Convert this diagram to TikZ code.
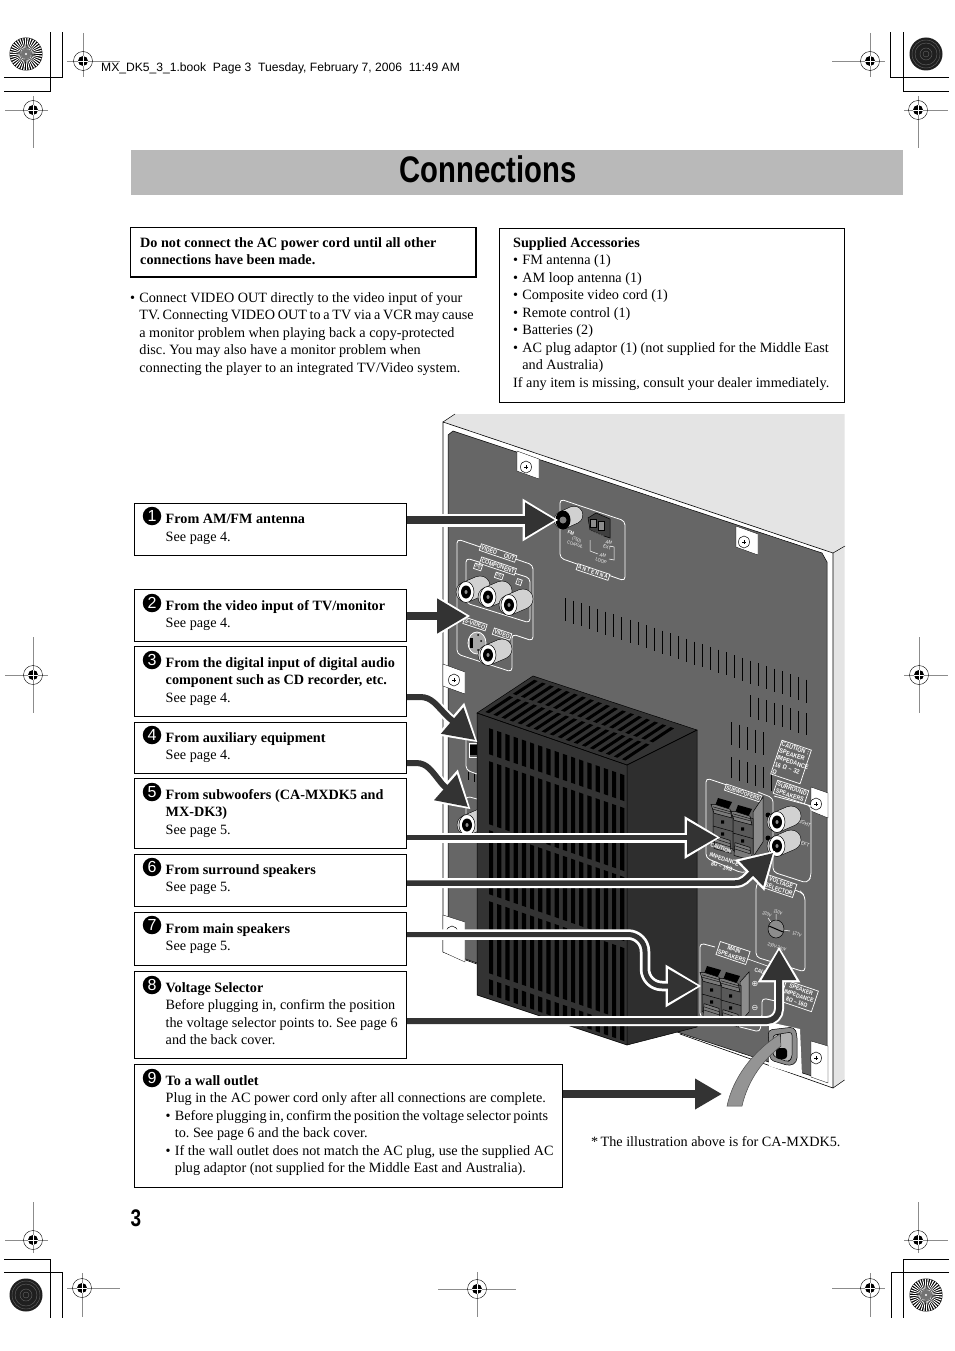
\documentclass[tikz,border=0pt]{standalone}
\usepackage{fontspec}
\setmainfont{Liberation Serif}
\newfontfamily\ttlfont[FakeStretch=0.79]{Liberation Sans}
\newfontfamily\labfont[FakeStretch=0.85]{Liberation Sans}
\newfontfamily\hdrfont{Liberation Sans}
\newfontfamily\symfont{DejaVu Sans}
\usetikzlibrary{arrows.meta}
\definecolor{pan}{HTML}{666666}
\definecolor{lite}{HTML}{E4E4E4}
\definecolor{dk}{HTML}{333333}
\definecolor{bar}{HTML}{B9B9B9}
\newcommand{\bodyf}{\fontsize{14.2}{17.55}\selectfont\frenchspacing}
\newcommand{\blt}{\makebox[9.2pt][l]{•}}
\newcommand{\ind}{\hspace*{9.2pt}}
\newcommand{\numf}{\hdrfont\fontsize{16}{16}\selectfont}
\newcommand{\lbf}[1]{\labfont\bfseries\fontsize{#1}{#1}\selectfont\baselineskip=1.12\baselineskip}
\tikzset{
 ctext/.style={inner sep=0,anchor=north west,align=left,font=\bodyf,yshift=-1pt},
 cbox/.style={draw=black,line width=.8pt,fill=white},
 numc/.style={circle,fill=black,text=white,inner sep=0,minimum size=18.5pt,font=\numf},
 reg/.style={draw=black!45,line width=.8pt},
 crop/.style={draw=black,line width=.9pt},
 grp/.style={draw=white,line width=.8pt,rounded corners=4pt},
 lab/.style={text=white,font=\labfont\fontsize{5.2}{6}\selectfont,rotate=-18.6,inner sep=.6pt,align=center},
 blab/.style={lab,draw=white,fill=pan,line width=.7pt,inner sep=1.2pt},
 wline/.style={draw=white,line width=#1,line join=round},
 dline/.style={draw=dk,line width=#1,line join=round},
 tabw/.style={fill=white,draw=black,line width=.3pt},
}
% registration mark
\newcommand{\regm}[6]{%
 \draw[reg] (#1-#3,#2)--(#1+#4,#2) (#1,#2-#5)--(#1,#2+#6);
 \draw[black,line width=.4pt] (#1,#2) circle[radius=9.5pt];
 \fill[black] (#1,#2) circle[radius=5pt];
 \draw[white,line width=.7pt] (#1-5,#2)--(#1+5,#2) (#1,#2-5)--(#1,#2+5);}
% discs
\newcommand{\radial}[2]{%
 \fill[black] (#1,#2) circle[radius=16.5pt];
 \foreach \a in {0,10,...,350}{\fill[white] (#1,#2) -- +({\a}:16pt) -- +({\a+4.5}:16pt) -- cycle;}
 \fill[black!55] (#1,#2) circle[radius=5pt];
 \fill[white] (#1,#2) circle[radius=1.2pt];}
\newcommand{\darkd}[2]{%
 \fill[black!88] (#1,#2) circle[radius=16.5pt];
 \foreach \r in {3,6,11,14}{\draw[black!60,line width=.4pt] (#1,#2) circle[radius=\r pt];}}
% RCA jack
\newcommand{\jack}[2]{%
 \draw[black,line width=20.5pt,line cap=round] (#1,#2)--(#1+14,#2-6);
 \draw[black!18,line width=19.5pt,line cap=round] (#1,#2)--(#1+14,#2-6);
 \fill[white,draw=black,line width=.5pt] (#1,#2) ellipse[x radius=8pt,y radius=10.5pt];
 \fill[black] (#1,#2) ellipse[x radius=5pt,y radius=6.5pt];
 \fill[black!45] (#1,#2) ellipse[x radius=1.5pt,y radius=2pt];}
% screw
\newcommand{\screw}[2]{%
 \fill[white,draw=black,line width=.5pt] (#1,#2) ellipse[x radius=5.5pt,y radius=6pt];
 \draw[black,line width=1pt] (#1-2,#2)--(#1+2,#2) (#1,#2-2)--(#1,#2+2);}
% tab
\newcommand{\tabp}[8]{\fill[tabw] (#1,#2)--(#3,#4)--(#5,#6)--(#7,#8)--cycle;}
% speaker terminal
\newcommand{\term}[2]{%
 \begin{scope}[shift={(#1,#2)},yscale=.8]
 \fill[black!65,draw=black,line width=.5pt] (0,10)--(20,17)--(20,64)--(0,57)--cycle;
 \fill[black] (5,0)--(19,5)--(15,15)--(2,10)--cycle;
 \fill[black!52,draw=black,line width=.5pt] (-2,8)--(2,8)--(17,14)--(19,25)--(1,19)--cycle;
 \draw[black,line width=.4pt] (0,11)--(17,17) (0,14)--(18,20);
 \fill[black] (8,28) rectangle (11,32) (8,43) rectangle (11,47);
 \draw[black,line width=.5pt] (0,35)--(20,42);
 \fill[black!52,draw=black,line width=.5pt] (2,47)--(17,53)--(18,69)--(1,63)--cycle;
 \draw[black,line width=.4pt] (2,51)--(17,57) (2,55)--(17,61);
 \end{scope}}
\begin{document}
\begin{tikzpicture}[x=1pt,y=-1pt]
\path[use as bounding box] (0,0) rectangle (954,1351);
\fill[white] (0,0) rectangle (954,1351);
% crop marks
\draw[crop] (4,77)--(62,77)--(62,32) (4,91)--(50,91)--(50,32);
\draw[crop] (949,77)--(890,77)--(890,32) (949,91)--(903,91)--(903,32);
\draw[crop] (4,1259)--(50,1259)--(50,1318) (4,1272)--(62,1272)--(62,1318);
\draw[crop] (949,1259)--(903,1259)--(903,1318) (949,1272)--(891,1272)--(891,1318);
\radial{26}{54}\darkd{926}{54}\darkd{26}{1295}\radial{926}{1295}
\regm{83}{61}{16}{37}{28}{16}
\regm{33}{110}{28}{15}{14}{38}
\regm{870}{61}{38}{15}{28}{16}
\regm{918}{110}{14}{30}{14}{38}
\regm{33}{675}{28}{15}{38}{38}
\regm{919}{675}{15}{29}{38}{38}
\regm{33}{1240}{28}{15}{38}{13}
\regm{918}{1240}{14}{30}{38}{13}
\regm{82}{1288}{15}{38}{15}{29}
\regm{477}{1289}{39}{39}{17}{28}
\regm{870}{1288}{38}{15}{15}{29}
% header
\node (hdr) [anchor=base west,inner sep=0,font=\hdrfont\fontsize{12.1}{12}\selectfont] at (101,72) {MX\_DK5\_3\_1.book\hspace{3.5pt} Page 3\hspace{3.5pt} Tuesday, February 7, 2006\hspace{3.5pt} 11:49 AM};
% title
\fill[bar] (131,150) rectangle (903,195);
\node (title) [inner sep=0,font=\ttlfont\bfseries\fontsize{37}{40}\selectfont] at (488,169.5) {Connections};
% page number
\node (pnum) [inner sep=0,font=\ttlfont\bfseries\fontsize{24}{24}\selectfont] at (136,1218) {3};
% warning box
\draw[cbox,line width=1.2pt] (130.5,227.5) rectangle (476,277);
\node (warn) [ctext] at (140,236) {\bfseries Do not connect the AC power cord until all other\\\bfseries connections have been made.};
\node (conn) [ctext] at (130,291) {\blt Connect VIDEO OUT directly to the video input of your\\\ind {\spaceskip=2.7pt\relax TV. Connecting VIDEO OUT to a TV via a VCR may cause}\\\ind a monitor problem when playing back a copy-protected\\\ind disc. You may also have a monitor problem when\\\ind connecting the player to an integrated TV/Video system.};
\draw[cbox] (499.5,228) rectangle (844.5,402);
\node (acc) [ctext] at (513,236) {\bfseries Supplied Accessories\\\blt FM antenna (1)\\\blt AM loop antenna (1)\\\blt Composite video cord (1)\\\blt Remote control (1)\\\blt Batteries (2)\\\blt AC plug adaptor (1) (not supplied for the Middle East\\\ind and Australia)\\If any item is missing, consult your dealer immediately.};
% ---------- device
\fill[lite] (455,414)--(844.5,414)--(844.5,1080)--(833,1088)--(833,553)--(443,422)--cycle;
\fill[white] (443,422)--(833,553)--(833,1088)--(443,952)--cycle;
\fill[pan] (448,435)--(453,431)--(822,553)--(827,562)--(827,1081)--(680,1033)--(477,963)--(448,953)--cycle;
\draw[black,line width=.5pt] (827,1081)--(680,1033)--(448,953)--(448,435)--(453,431)--(822,553)--(827,562)--cycle;
\draw[black,line width=.6pt] (443,952)--(443,422)--(833,553)--(833,1088)--(680,1034) (443,952)--(477,964);
\draw[black,line width=.5pt] (833,553)--(845,546) (833,1088)--(844.5,1080) (443,422)--(455,414);
% tabs & screws
\tabp{517}{451}{539}{459}{539}{479}{517}{471}\screw{526}{467}
\tabp{736}{526}{758}{534}{758}{555}{736}{547}\screw{744}{542}
\tabp{443}{664}{465}{672}{465}{694}{443}{686}\screw{454}{680}
\tabp{811}{787}{828}{793}{828}{818}{811}{811}\screw{816}{804}
\tabp{443}{915}{465}{922}{465}{962}{443}{952}\screw{452}{932}
\tabp{811}{1041}{828}{1046}{828}{1083}{811}{1077}\screw{816}{1058}
% vents
\foreach \i in {0,...,30}{\draw[black,line width=1pt] ({565.7+8.04*\i},{598+2.72*\i})--({565.7+8.04*\i},{621+2.72*\i});}
\foreach \i in {0,...,7}{\draw[black,line width=1pt] ({750+8*\i},{695+2.6*\i})--({750+8*\i},{717+2.6*\i});}
\foreach \i in {0,...,4}{\draw[black,line width=1pt] ({731+8*\i},{722+2.6*\i})--({731+8*\i},{745+2.6*\i});}
\foreach \i in {0,...,5}{\draw[black,line width=1pt] ({731+8*\i},{757+2.6*\i})--({731+8*\i},{778+2.6*\i});}
% antenna group
\draw[grp] (560,499)--(625,521)--(625,581)--(560,558)--cycle;
\node (lant) [blab,font=\lbf{5.6}] at (593,572) {A N T E N N A};
\node (lfm) [lab,font=\lbf{5.2}] at (571,533) {FM};
\node (lcx) [lab,font=\labfont\fontsize{4.4}{5.2}\selectfont] at (576,542) {(75Ω)\\COAXIAL};
\node (lam1) [lab,font=\labfont\fontsize{4.8}{5.4}\selectfont] at (608,545) {AM\\EXT};
\node (lam2) [lab,font=\labfont\fontsize{4.8}{5.4}\selectfont] at (602,558) {AM\\LOOP};
\draw[white,line width=.5pt] (590,540)--(590,551)--(598,554) (609,559)--(614,560)--(614,547)--(610,546);
\fill[black!75,draw=black,line width=.5pt] (588,518)--(596,513)--(610,519)--(610,538)--(604,536)--(590,530)--cycle;
\fill[black!45,draw=black,line width=.4pt] (590,519) rectangle (596,527) (598,521) rectangle (604,530);
\foreach \i in {0,1,2,3}{\draw[black!60,line width=.5pt] (589,{530+\i*2})--(604,{536+\i*2});}
\draw[black,line width=18pt,line cap=round] (563,520)--(574,515);
\draw[black!18,line width=17pt,line cap=round] (563,520)--(574,515);
\fill[black] (563,520) ellipse[x radius=7.5pt,y radius=9.5pt];
\fill[black!50] (563,520) circle[radius=3.5pt];
% video group
\draw[grp] (457,539)--(533,565)--(533,641)--(512,634)--(512,672)--(457,654)--cycle;
\draw[grp] (466,558)--(530,578)--(530,623)--(466,603)--cycle;
\node (lvo) [blab,font=\lbf{6.2}] at (498,553) {VIDEO\hspace{6pt} OUT};
\node (lcm) [blab,font=\lbf{6.2}] at (498,566) {COMPONENT};
\node (lpb) [blab,font=\labfont\fontsize{4.6}{5}\selectfont] at (478,567) {PB};
\node (lpr) [blab,font=\labfont\fontsize{4.6}{5}\selectfont] at (499,576) {PR};
\node (ly) [blab,font=\labfont\fontsize{4.6}{5}\selectfont] at (519,582) {Y};
\node (lsv) [blab,font=\lbf{6}] at (475,624) {S-VIDEO};
\node (lvd) [blab,font=\lbf{6}] at (502,634) {VIDEO};
\jack{466}{592}\jack{488}{597}\jack{509}{605}
\fill[black!35,draw=white,line width=.8pt] (477,643) ellipse[x radius=9pt,y radius=11pt];
\fill[black] (470,638) rectangle (473,648);
\fill[black] (478,635) circle[radius=1pt] (481,641) circle[radius=1pt] (478,650) circle[radius=1pt];
\jack{488}{655}
% left hidden groups
\draw[grp] (466,727)--(466,770)--(477,774);
\fill[black] (470,745) rectangle (477,755);
\draw[white,line width=.5pt] (469,743) rectangle (477,757);
\draw[black,line width=1pt] (468,772)--(468,780) (474,774)--(474,782);
\draw[grp] (466,816)--(466,796)--(477,799);
\jack{467}{825}
% subwoofer group
\draw[grp] (758,792)--(773,798)--(773,872)--(807,883)--(811,877)--(811,806)--(808,805)--(774,796);
\draw[grp] (730,786)--(706,778)--(706,858)--(742,873)--(760,868);
\node (lsw) [blab,font=\lbf{5.6}] at (743,793) {SUBWOOFERS};
\fill[black!45,draw=black,line width=.5pt] (753,812)--(763,797)--(763,842)--(753,857)--cycle;
\term{713}{798}\term{733}{805}
\node (lc0) [lab,font=\lbf{5.6}] at (721,848) {CAUTION};
\node (lc1) [lab,font=\lbf{6}] at (723,863) {IMPEDANCE\\[1pt]8Ω – 16Ω};
\node (ll1) [lab] at (755,858) {LEFT};
% surround
\node (lct) [blab,font=\lbf{6.4},align=left,text width=29pt,inner xsep=1pt] at (791,762) {CAUTION :\\SPEAKER\\IMPEDANCE\\16 Ω – 32 Ω};
\node (lss) [blab,font=\lbf{6.2}] at (791,792) {SURROUND\\SPEAKERS};
\node (lr) [lab] at (804,823) {RIGHT};
\node (ll) [lab] at (804,844) {LEFT};
\fill[black] (768,815) circle[radius=2.5pt] (768,838) circle[radius=2.5pt];
\jack{777}{822}\jack{777}{846}
% voltage
\draw[grp] (775,884)--(801,892)--(805,896)--(805,972)--(756,957)--(756,885)--(760,880);
\node (lvs) [blab,font=\lbf{6.2}] at (780,886) {VOLTAGE\\SELECTOR};
\draw[white,line width=.5pt] (776,929)--(776,914) (776,929)--(768,918) (776,929)--(790,931);
\fill[black!45,draw=black,line width=.5pt] (776,929) ellipse[x radius=8pt,y radius=9pt];
\draw[black,line width=1pt] (769,926)--(783,932);
\node (lv1) [lab,font=\labfont\fontsize{4.6}{5}\selectfont] at (778,912) {110V};
\node (lv2) [lab,font=\labfont\fontsize{4.6}{5}\selectfont] at (767,914) {220V};
\node (lv3) [lab,font=\labfont\fontsize{4.6}{5}\selectfont] at (797,934) {127V};
\node (lv4) [lab,font=\labfont\fontsize{4.6}{5}\selectfont] at (777,947) {230V-240V};
% main speakers
\draw[grp] (715,947)--(700,943)--(700,1017)--(760,1032)--(762,1016)--(762,998)--(780,1002);
\draw[white,line width=.6pt] (745,958)--(790,974);
\node (lms) [blab,font=\lbf{6.2}] at (733,953) {MAIN\\SPEAKERS};
\fill[black!45,draw=black,line width=.5pt] (740,982)--(749,972)--(749,1012)--(740,1022)--cycle;
\term{702}{966}\term{721}{972}
\node (lc2) [lab,font=\lbf{5.6}] at (765,973) {CAUTION};
\node (lpl) [text=white,inner sep=0,font=\symfont\fontsize{8}{8}\selectfont] at (755,984) {⊕};
\node (lmi) [text=white,inner sep=0,font=\symfont\fontsize{8}{8}\selectfont] at (755,1008) {⊖};
\node (lsp) [blab,font=\lbf{6},inner xsep=1.5pt,inner ysep=2pt] at (799,996) {SPEAKER\\IMPEDANCE\\8Ω – 16Ω};
% AC socket
\fill[white] (769,1022)--(800,1029)--(802,1076)--(769,1066)--cycle;
\fill[black!45,draw=black,line width=.5pt,rounded corners=4pt] (768,1030)--(794,1027)--(797,1034)--(797,1062)--(790,1066)--(770,1060)--cycle;
\fill[black!30,draw=black,line width=.5pt,rounded corners=3pt] (773,1035)--(792,1032)--(792,1058)--(788,1062)--(773,1056)--cycle;
\fill[black] (777,1034) rectangle (781,1047);
\fill[black,rounded corners=3pt] (776,1048) rectangle (787,1059);
% cord
\fill[black!42,draw=black!70,line width=.5pt] (727,1106) .. controls (733,1078) and (752,1052) .. (780,1034) -- (781,1046) .. controls (763,1060) and (748,1080) .. (742,1106) -- cycle;
% heat sink
\fill[dk] (477,713)--(627,765)--(627,1045)--(477,995)--cycle;
\fill[black!82] (627,765)--(697,730)--(697,1027)--(627,1045)--cycle;
\fill[dk,draw=black,line width=.5pt] (477,713)--(533,676)--(697,730)--(627,765)--cycle;
\foreach \i in {0,...,17}{
 \pgfmathsetmacro\ua{0.03+0.0535*\i}
 \pgfmathsetmacro\ub{\ua+0.024}
 \fill[black] ({477+150*\ua+56*.07},{713+52*\ua-37*.07})--({477+150*\ub+56*.07},{713+52*\ub-37*.07})--({477+150*\ub+56*.50},{713+52*\ub-37*.50})--({477+150*\ua+56*.50},{713+52*\ua-37*.50})--cycle;
 \fill[black] ({477+150*\ua+56*.56},{713+52*\ua-37*.56})--({477+150*\ub+56*.56},{713+52*\ub-37*.56})--({477+150*\ub+56*.94},{713+52*\ub-37*.94})--({477+150*\ua+56*.94},{713+52*\ua-37*.94})--cycle;}
\foreach \i in {0,...,16}{
 \pgfmathsetmacro\xa{489+8.2*\i}
 \pgfmathsetmacro\xb{\xa+4.2}
 \foreach \ya/\yb in {724/750,757/820,826/890,897/969,975/990}{
 \fill[black] (\xa,{\ya+.347*(\xa-477)})--(\xb,{\ya+.347*(\xb-477)})--(\xb,{\yb+.347*(\xb-477)})--(\xa,{\yb+.347*(\xa-477)})--cycle;}}
\draw[black,line width=.5pt] (477,713)--(477,995)--(627,1045)--(697,1027)--(697,730);
\draw[black,line width=.5pt] (477,713)--(627,765)--(627,1045) (627,765)--(697,730);
% ---------- text boxes
\draw[cbox] (134.5,503.5) rectangle (406.7,555); \node (b1) [ctext] at (165.5,513) {\bfseries From AM/FM antenna\\See page 4.};
\draw[cbox] (134.5,589.5) rectangle (406.7,641); \node (b2) [ctext] at (165.5,599) {\bfseries From the video input of TV/monitor\\See page 4.};
\draw[cbox] (134.5,646) rectangle (406.7,716); \node (b3) [ctext] at (165.5,656) {\bfseries From the digital input of digital audio\\\bfseries component such as CD recorder, etc.\\See page 4.};
\draw[cbox] (134.5,722) rectangle (406.7,773); \node (b4) [ctext] at (165.5,731) {\bfseries From auxiliary equipment\\See page 4.};
\draw[cbox] (134.5,778.5) rectangle (406.7,848); \node (b5) [ctext] at (165.5,788) {\bfseries From subwoofers (CA-MXDK5 and\\\bfseries MX-DK3)\\See page 5.};
\draw[cbox] (134.5,854.5) rectangle (406.7,906); \node (b6) [ctext] at (165.5,863) {\bfseries From surround speakers\\See page 5.};
\draw[cbox] (134.5,912.5) rectangle (406.7,965); \node (b7) [ctext] at (165.5,922) {\bfseries From main speakers\\See page 5.};
\draw[cbox] (134.5,971.5) rectangle (406.7,1058); \node (b8) [ctext] at (165.5,981) {\bfseries Voltage Selector\\Before plugging in, confirm the position\\the voltage selector points to. See page 6\\and the back cover.};
\draw[cbox] (134.5,1064.5) rectangle (562.7,1187); \node (b9) [ctext] at (165.5,1074) {\bfseries To a wall outlet\\Plug in the AC power cord only after all connections are complete.\\\blt {\spaceskip=2.6pt\relax Before plugging in, confirm the position the voltage selector points}\\\ind to. See page 6 and the back cover.\\\blt If the wall outlet does not match the AC plug, use the supplied AC\\\ind plug adaptor (not supplied for the Middle East and Australia).};
\node (foot) [ctext,anchor=base west] at (591,1145) {*\,The illustration above is for CA-MXDK5.};
\foreach \n/\x/\y in {1/152/516,2/152/603,3/152/660,4/152/735,5/152/792,6/152/867,7/152/925,8/152/985,9/152/1078}{
 \node (n\n) [numc] at (\x,\y) {\n};}
% ---------- arrows
\coordinate (s1) at (407,520); \coordinate (e1) at (555,520);
\coordinate (s2) at (407,616); \coordinate (e2) at (467,616);
\coordinate (s3) at (407,697); \coordinate (e3) at (475,740);
\coordinate (s4) at (407,763); \coordinate (e4) at (468,807);
\coordinate (s5) at (407,837.5); \coordinate (e5) at (717,837.5);
\coordinate (s6) at (407,883); \coordinate (e6) at (773,853);
\coordinate (s7) at (407,934.5); \coordinate (e7) at (698,986);
\coordinate (s8) at (407,1021); \coordinate (e8) at (779,950);
\coordinate (s9) at (563,1094); \coordinate (e9) at (722,1094);
% straight white-edged
\foreach \a/\b/\w in {s1/e1/8,s2/e2/8,s5/e5/5}{
 \draw[wline=\w pt+5pt,-{Triangle[length=36pt,width=40pt]},shorten >=-3.6pt] (\a)--(\b);
 \draw[dline=\w pt,-{Triangle[length=30pt,width=33pt]}] (\a)--(\b);}
% bent
\draw[wline=10pt,-{Triangle[length=36pt,width=40pt]},shorten >=-3.6pt] (s3)--(420,697)..controls (432,697) and (436,705) .. (448,717)--(e3);
\draw[dline=6pt,-{Triangle[length=30pt,width=33pt]}] (s3)--(420,697)..controls (432,697) and (436,705) .. (448,717)--(e3);
\draw[wline=10pt,-{Triangle[length=36pt,width=40pt]},shorten >=-3.6pt] (s4)--(416,763)..controls (428,763) and (432,772) .. (443,785)--(e4);
\draw[dline=6pt,-{Triangle[length=30pt,width=33pt]}] (s4)--(416,763)..controls (428,763) and (432,772) .. (443,785)--(e4);
\draw[wline=10pt,-{Triangle[length=36pt,width=40pt]},shorten >=-3.6pt] (s6)--(735,883)..controls (744,883) and (746,878) .. (752,873)--(e6);
\draw[dline=5.5pt,-{Triangle[length=30pt,width=33pt]}] (s6)--(735,883)..controls (744,883) and (746,878) .. (752,873)--(e6);
\draw[wline=10.5pt,-{Triangle[length=36pt,width=40pt]},shorten >=-3.6pt,rounded corners=17pt] (s7)--(645,934.5)--(645,986)--(e7);
\draw[dline=5pt,-{Triangle[length=30pt,width=33pt]},rounded corners=17pt] (s7)--(645,934.5)--(645,986)--(e7);
\draw[wline=10pt,-{Triangle[length=36pt,width=40pt]},shorten >=-3.6pt,rounded corners=12pt] (s8)--(779,1021)--(e8);
\draw[dline=6pt,-{Triangle[length=30pt,width=33pt]},rounded corners=12pt] (s8)--(779,1021)--(e8);
\draw[dline=8pt,-{Triangle[length=27pt,width=29pt]}] (s9)--(e9);
\end{tikzpicture}
\end{document}
